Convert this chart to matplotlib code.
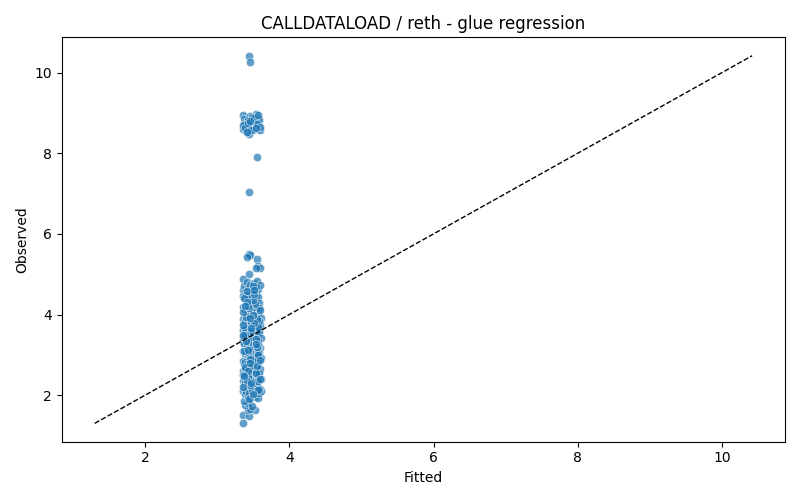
import matplotlib
matplotlib.use("Agg")
import matplotlib.pyplot as plt
import seaborn as sns

# fitted vs observed
top_fitted = [3.35, 3.37, 3.39, 3.41, 3.43, 3.45, 3.47, 3.49, 3.51, 3.53, 3.55, 3.57, 3.59,
              3.36, 3.38, 3.40, 3.42, 3.44, 3.46, 3.48, 3.50, 3.52, 3.54, 3.56, 3.58,
              3.35, 3.39, 3.43, 3.47, 3.51, 3.55, 3.59, 3.41, 3.45, 3.53, 3.57]
top_observed = [8.95, 8.85, 8.78, 8.70, 8.62, 8.92, 8.80, 8.66, 8.74, 8.97, 8.60, 8.88, 8.58,
                8.60, 8.72, 8.55, 8.83, 8.48, 8.68, 8.90, 8.57, 8.76, 8.64, 8.70, 8.82,
                8.70, 8.62, 8.75, 8.58, 8.88, 8.72, 8.66, 8.52, 8.81, 8.62, 8.95]

outlier_fitted = [3.44, 3.45, 3.55, 3.44, 3.44, 3.46, 3.41, 3.55, 3.57, 3.59, 3.54, 3.44, 3.35]
outlier_observed = [10.42, 10.27, 7.90, 7.05, 5.49, 5.48, 5.42, 5.37, 5.20, 5.15, 5.15, 5.00, 4.87]

low_fitted = [3.35, 3.35, 3.44, 3.43, 3.52, 3.46, 3.39, 3.42, 3.48, 3.37]
low_observed = [1.30, 1.50, 1.48, 1.62, 1.63, 1.65, 1.75, 1.80, 1.72, 1.85]

band_fitted = [
    3.35, 3.37, 3.39, 3.41, 3.43, 3.45, 3.47, 3.49, 3.51, 3.53, 3.55, 3.57, 3.59,
    3.36, 3.38, 3.40, 3.42, 3.44, 3.46, 3.48, 3.50, 3.52, 3.54, 3.56, 3.58,
    3.36, 3.38, 3.40, 3.42, 3.44, 3.46, 3.48, 3.50, 3.52, 3.54, 3.56, 3.58, 3.60,
    3.35, 3.37, 3.39, 3.41, 3.43, 3.45, 3.47, 3.49, 3.51, 3.53, 3.55, 3.57, 3.59,
    3.36, 3.38, 3.40, 3.42, 3.44, 3.46, 3.48, 3.50, 3.52, 3.54, 3.56, 3.58, 3.60,
    3.35, 3.37, 3.39, 3.41, 3.43, 3.45, 3.47, 3.49, 3.51, 3.53, 3.55, 3.57, 3.59,
    3.36, 3.38, 3.40, 3.42, 3.44, 3.46, 3.48, 3.50, 3.52, 3.54, 3.56, 3.58, 3.60,
    3.35, 3.37, 3.39, 3.41, 3.43, 3.45, 3.47, 3.49, 3.51, 3.53, 3.55, 3.57, 3.59,
    3.36, 3.38, 3.40, 3.42, 3.44, 3.46, 3.48, 3.50, 3.52, 3.54, 3.56, 3.58, 3.60,
    3.35, 3.37, 3.39, 3.41, 3.43, 3.45, 3.47, 3.49, 3.51, 3.53, 3.55, 3.57, 3.59,
    3.36, 3.38, 3.40, 3.42, 3.44, 3.46, 3.48, 3.50, 3.52, 3.54, 3.56, 3.58, 3.60,
    3.44, 3.40, 3.52, 3.36, 3.48, 3.56, 3.42, 3.50, 3.38, 3.54, 3.46, 3.58, 3.35,
    3.50, 3.46, 3.38, 3.56, 3.42, 3.52, 3.36, 3.58, 3.44, 3.40, 3.54, 3.48, 3.57,
    3.41, 3.53, 3.47, 3.39, 3.55, 3.43, 3.59, 3.37, 3.51, 3.45, 3.57, 3.35, 3.49,
    3.55, 3.43, 3.37, 3.51, 3.47, 3.39, 3.59, 3.45, 3.53, 3.41, 3.35, 3.57, 3.49,
    3.47, 3.57, 3.41, 3.53, 3.37, 3.45, 3.55, 3.39, 3.43, 3.59, 3.51, 3.35, 3.49,
]
band_observed = [
    4.62, 4.71, 4.55, 4.80, 4.66, 4.74, 4.58, 4.69, 4.77, 4.52, 4.83, 4.64, 4.73,
    4.45, 4.38, 4.49, 4.30, 4.42, 4.35, 4.47, 4.26, 4.40, 4.33, 4.44, 4.28,
    4.18, 4.10, 4.22, 4.05, 4.15, 3.98, 4.20, 4.08, 3.95, 4.12, 4.02, 4.16, 3.92,
    3.88, 3.80, 3.85, 3.75, 3.90, 3.72, 3.82, 3.68, 3.86, 3.77, 3.70, 3.84, 3.74,
    3.62, 3.55, 3.66, 3.50, 3.58, 3.45, 3.64, 3.52, 3.40, 3.60, 3.48, 3.56, 3.42,
    3.35, 3.28, 3.38, 3.22, 3.32, 3.18, 3.36, 3.25, 3.14, 3.30, 3.20, 3.34, 3.16,
    3.10, 3.02, 3.08, 2.96, 3.05, 2.90, 3.12, 2.98, 2.88, 3.04, 2.94, 3.06, 2.92,
    2.85, 2.78, 2.82, 2.72, 2.80, 2.68, 2.86, 2.74, 2.64, 2.76, 2.70, 2.84, 2.66,
    2.60, 2.52, 2.58, 2.46, 2.55, 2.42, 2.62, 2.48, 2.38, 2.54, 2.44, 2.56, 2.40,
    2.35, 2.28, 2.32, 2.22, 2.30, 2.18, 2.36, 2.24, 2.14, 2.26, 2.20, 2.34, 2.16,
    2.10, 2.04, 2.08, 1.98, 2.06, 1.94, 2.12, 2.00, 1.96, 2.02, 1.92, 2.05, 2.09,
    1.90, 3.95, 4.25, 3.45, 2.75, 3.15, 2.45, 4.55, 3.65, 2.95, 2.25, 3.85, 4.05,
    4.35, 3.55, 2.65, 3.25, 4.48, 2.85, 3.75, 2.15, 4.15, 3.35, 2.55, 4.60, 3.05,
    2.35, 4.68, 3.60, 2.70, 3.90, 4.20, 2.40, 3.10, 4.50, 2.90, 3.70, 2.20, 4.00,
    3.20, 2.60, 4.40, 3.80, 2.30, 3.50, 4.10, 2.80, 3.40, 4.30, 2.50, 3.00, 4.70,
    3.66, 2.12, 4.58, 3.28, 2.48, 3.92, 2.72, 4.22, 3.12, 2.88, 4.62, 3.48, 2.04,
]

fitted = top_fitted + outlier_fitted + low_fitted + band_fitted
observed = top_observed + outlier_observed + low_observed + band_observed

fig, ax = plt.subplots(figsize=(8, 5), dpi=100)
sns.scatterplot(x=fitted, y=observed, alpha=0.7, s=36, ax=ax)

lo = min(min(fitted), min(observed))
hi = max(max(fitted), max(observed))
ax.plot([lo, hi], [lo, hi], "k--", linewidth=1)

ax.set_title("CALLDATALOAD / reth - glue regression")
ax.set_xlabel("Fitted")
ax.set_ylabel("Observed")
fig.tight_layout()
fig.savefig("out.png")
